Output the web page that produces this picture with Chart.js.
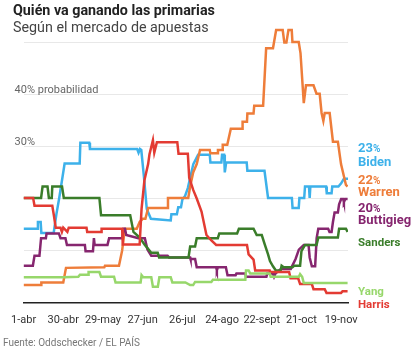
<!DOCTYPE html>
<html>
<head>
<meta charset="utf-8">
<script src="https://cdn.jsdelivr.net/npm/chart.js@4.4.1/dist/chart.umd.min.js"></script>
<style>
  html, body { margin: 0; padding: 0; background: #fff; }
  #wrap { position: relative; width: 414px; height: 358px; overflow: hidden; font-family: Roboto, "Noto Sans", sans-serif; }
  canvas { position: absolute; left: 0; top: 0; }
  .t { position: absolute; white-space: nowrap; }
  #title { left: 13px; top: 1px; font-size: 14.3px; font-weight: 700; color: #222; line-height: 18px; }
  #sub { left: 13px; top: 18px; font-size: 14.3px; color: #444; line-height: 18px; }
  #src { left: 3px; top: 336px; font-size: 10px; color: #777; line-height: 14px; }
  .lab { left: 358px; font-weight: 700; line-height: 14px; height: 14px; }
  .big { font-size: 13px; }
  .sm { font-size: 11.5px; }
  .pct { font-size: 10px; }
</style>
</head>
<body>
<div id="wrap">
  <canvas id="c" width="414" height="358"></canvas>
  <div class="t" id="title">Quién va ganando las primarias</div>
  <div class="t" id="sub">Según el mercado de apuestas</div>
  <div class="t" id="src">Fuente: Oddschecker / EL PAÍS</div>
  <div class="t lab big" style="top:141px;color:#3DB1EA">23<span class="pct">%</span></div>
  <div class="t lab big" style="top:155px;color:#3DB1EA">Biden</div>
  <div class="t lab big" style="top:173px;color:#EE7D3A">22<span class="pct">%</span></div>
  <div class="t lab big" style="top:185px;color:#EE7D3A">Warren</div>
  <div class="t lab big" style="top:201px;color:#86266F">20<span class="pct">%</span></div>
  <div class="t lab big" style="top:213px;color:#86266F">Buttigieg</div>
  <div class="t lab sm" style="top:235px;color:#3A7D2A">Sanders</div>
  <div class="t lab sm" style="top:284px;color:#97D76B">Yang</div>
  <div class="t lab sm" style="top:297px;color:#E33B33">Harris</div>
</div>
<script>
// Days counted from 1 April 2019
const tickDays = [0, 29, 58, 87, 116, 145, 174, 203, 232];
const tickLabels = ['1-abr', '30-abr', '29-may', '27-jun', '26-jul', '24-ago', '22-sept', '21-oct', '19-nov'];

const bidenDays = [0,10,10.5,12.5,13,22,24,26,30,41,41.5,48,48.5,83,84,85,86,88,90,93,107.5,108,112,113,115,116,118,120,124,127.5,136,136.5,144.5,145,146.5,147,148,163,163.5,176,178.6,196,196.5,201,201.5,205,205.6,208.5,209,209.5,221,221.5,225,225.5,230,232,234,237];
const bidenPct  = [14.2,14.2,15.5,15.5,13.4,13.4,17,20,26.7,26.7,30.7,30.7,29.5,29.5,28.8,29.5,29.3,24,18,16.1,15.8,17,17,18.3,18.3,19.8,20.5,22,26.6,28.4,28.4,26.9,26.9,28.4,28.4,25,26.9,26.9,25.3,25.3,20.1,20.1,18.2,18.2,20.1,20.1,22.3,22.3,20.1,22.3,22.3,21,21,22.3,22.3,22.9,23.8,23.8];

const warrenDays = [0,12.8,13,29,31,59,59.5,69.7,72,74,82.7,84.8,87,89,91,105,105.5,120.3,121.7,123.9,126.5,128.9,136,136.5,141.7,142,145.2,145.5,148.8,151.4,159.6,160,163.2,163.5,168,168.5,175,177.2,182.2,184.5,189.3,190.5,192,193.5,195.9,196.4,201,202.3,204.7,206.3,211.8,214,216.3,217.7,219,220,223.6,226,229.6,231.9,235.5,236.7];
const warrenPct  = [3.4,3.4,3.9,3.9,6.7,6.8,7.1,7.1,10,14.2,14.2,15.5,16.1,16.1,18.2,18.2,20.1,20.1,22.3,25,26.6,29.3,29.3,28.7,28.7,29.3,29.3,30.3,30.3,33.4,33.4,34.7,34.7,36.3,36.3,37.8,37.8,48.8,48.8,52.3,52.3,49.9,49.9,52.3,52.3,50,50,47.9,38.3,41.7,41.7,40.1,40.1,36.4,34.9,36.4,36.4,30.9,30.9,26.6,22.6,22.3];

const harrisDays = [0,7,8,21,22.2,23.5,27,28,29,32,33,46,46.5,56.6,57,72,72.5,84.8,86.2,88.3,91,92,94.5,95.5,97.4,112.3,113.2,120,121,124,126.5,130,133.6,137,140.7,163.2,164.4,168,169.2,179.8,180,194,195,200.6,202,210.6,211.8,220,221.3,231.9,233,236.7];
const harrisPct  = [20.1,20.1,18.6,18.6,16.7,14.4,14.4,13.6,14.4,13.6,14.4,14.4,13.6,13.6,14.2,14.2,11.2,11.2,18,23.5,26.6,28.5,31.2,28.8,30.8,30.8,28.6,28.6,24,21.6,20,17.5,13,12,11.1,11.1,9.3,8.3,6.2,6.2,5.9,5.9,4.7,4.7,3.6,3.6,2.6,2.6,1.9,1.9,2.2,2.2];

const sandersDays = [0,12.8,13.9,17.5,18.5,20.6,21,28.1,29.4,55.4,56.6,77.9,80.3,84.8,88.6,93.3,98,99,120.5,121.7,125.3,126.5,141.9,143,156,157.3,168,170.3,174,176.3,178.6,180,182.2,184.3,187.8,188.5,190,196.4,197.6,202,203,205.6,214,215.3,229.6,230.5,235.5,236.7];
const sandersPct  = [20.1,20.1,22.3,22.3,20.1,20.1,22.3,22.3,20.1,20.1,16.8,16.8,13.6,12.5,11.1,9.6,9.6,8.7,8.7,10.8,10.8,12.4,12.4,13.3,13.3,14.2,14.2,13,13,11.1,9.3,8,7,6.2,6.2,7.1,6.8,6.8,7.1,7.1,9.9,11.1,11.1,12.5,12.5,14.2,14.2,13.6];

const buttigiegDays = [0,6.8,8,11.6,12.8,16.3,16.8,25.8,27,30.6,31.7,44.8,45.3,50.7,51.4,51.9,61.3,62.5,72,73,74.1,75,83.9,88.6,90.5,93.3,105.2,106.3,121.7,122,125.3,126.5,140.7,141.2,141.9,147.8,149,154.9,155.5,162,162.5,177.4,178,182.2,183,184,188,195.2,198.7,201.1,204.7,208.2,209,210.6,213,214.1,215.3,222.5,223.5,225,226,227.2,229.6,230.5,232,233.5,234,235,236.7];
const buttigiegPct  = [7.1,7.1,9,9,12.4,12.4,13.3,13.3,12.4,12.4,11.1,11.1,9.9,9.9,12.4,11.1,11.1,12.4,12.4,14.2,14.2,13,12.4,12.4,10.2,9,9,8.7,8.7,8.4,8.4,6.8,6.8,6.2,6.8,6.8,5.3,5.3,5.6,5.6,5,5,5.6,5.6,5,5.6,6.5,6.5,8.4,10.2,11.1,11.1,8.7,7,7,12.4,14.2,14.2,13.6,13.6,15.5,17.3,17.3,18.9,19.9,19.9,19.3,19.9,19.9];

const yangDays = [0,29.4,40,41.2,47.1,47.5,55.4,56.6,66.1,67.2,85.5,86.2,87.4,93.3,94.5,98.1,99.2,107.5,108.7,118.2,121.7,123.9,125.3,137.2,138.3,162,162.5,164.4,165.6,179.8,180.5,201.1,202,203.5,204.7,236.7];
const yangPct  = [4.9,4.9,5,5.4,5.4,5.9,5.9,5,5,3.9,3.9,5.3,4.9,4.9,3.1,3.1,4.9,4.9,3.9,3.9,3.4,3.4,4,4,4.4,4.4,6.2,6.2,5.6,5.6,5,5,5.5,5,3.8,3.8];

function pts(days, vals) { return days.map((d, i) => ({ x: d, y: vals[i] })); }
function ds(label, days, vals, color) {
  return { label, data: pts(days, vals), borderColor: color, backgroundColor: color,
           borderWidth: 2.5, pointRadius: 0, tension: 0, fill: false, borderJoinStyle: 'miter' };
}

new Chart(document.getElementById('c'), {
  type: 'line',
  data: {
    datasets: [
      ds('Yang', yangDays, yangPct, '#97D76B'),
      ds('Harris', harrisDays, harrisPct, '#E33B33'),
      ds('Sanders', sandersDays, sandersPct, '#3A7D2A'),
      ds('Buttigieg', buttigiegDays, buttigiegPct, '#86266F'),
      ds('Warren', warrenDays, warrenPct, '#EE7D3A'),
      ds('Biden', bidenDays, bidenPct, '#3DB1EA')
    ]
  },
  options: {
    responsive: false,
    animation: false,
    layout: { padding: { left: 13, right: 66, top: 16, bottom: 20 } },
    plugins: { legend: { display: false }, tooltip: { enabled: false } },
    scales: {
      x: {
        type: 'linear', min: 0, max: 237,
        afterBuildTicks: (s) => { s.ticks = tickDays.map(v => ({ value: v })); },
        grid: { display: false, drawTicks: false },
        border: { display: true, color: '#222', width: 1.5 },
        ticks: {
          autoSkip: false, maxRotation: 0, padding: 11, color: '#333',
          font: { family: 'Roboto', size: 11 },
          callback: (v) => { const i = tickDays.indexOf(v); return i >= 0 ? tickLabels[i] : ''; }
        }
      },
      y: {
        min: 0, max: 55,
        afterBuildTicks: (s) => { s.ticks = [0, 10, 20, 30, 40, 50].map(v => ({ value: v })); },
        grid: { color: '#e8e8e8', lineWidth: 1, drawTicks: false },
        border: { display: false },
        ticks: {
          mirror: true, padding: -3, labelOffset: -4, color: '#666',
          font: { family: 'Roboto', size: 11 },
          callback: (v) => v === 40 ? '40% probabilidad' : (v === 30 ? '30%' : '')
        }
      }
    }
  }
});
</script>
</body>
</html>
